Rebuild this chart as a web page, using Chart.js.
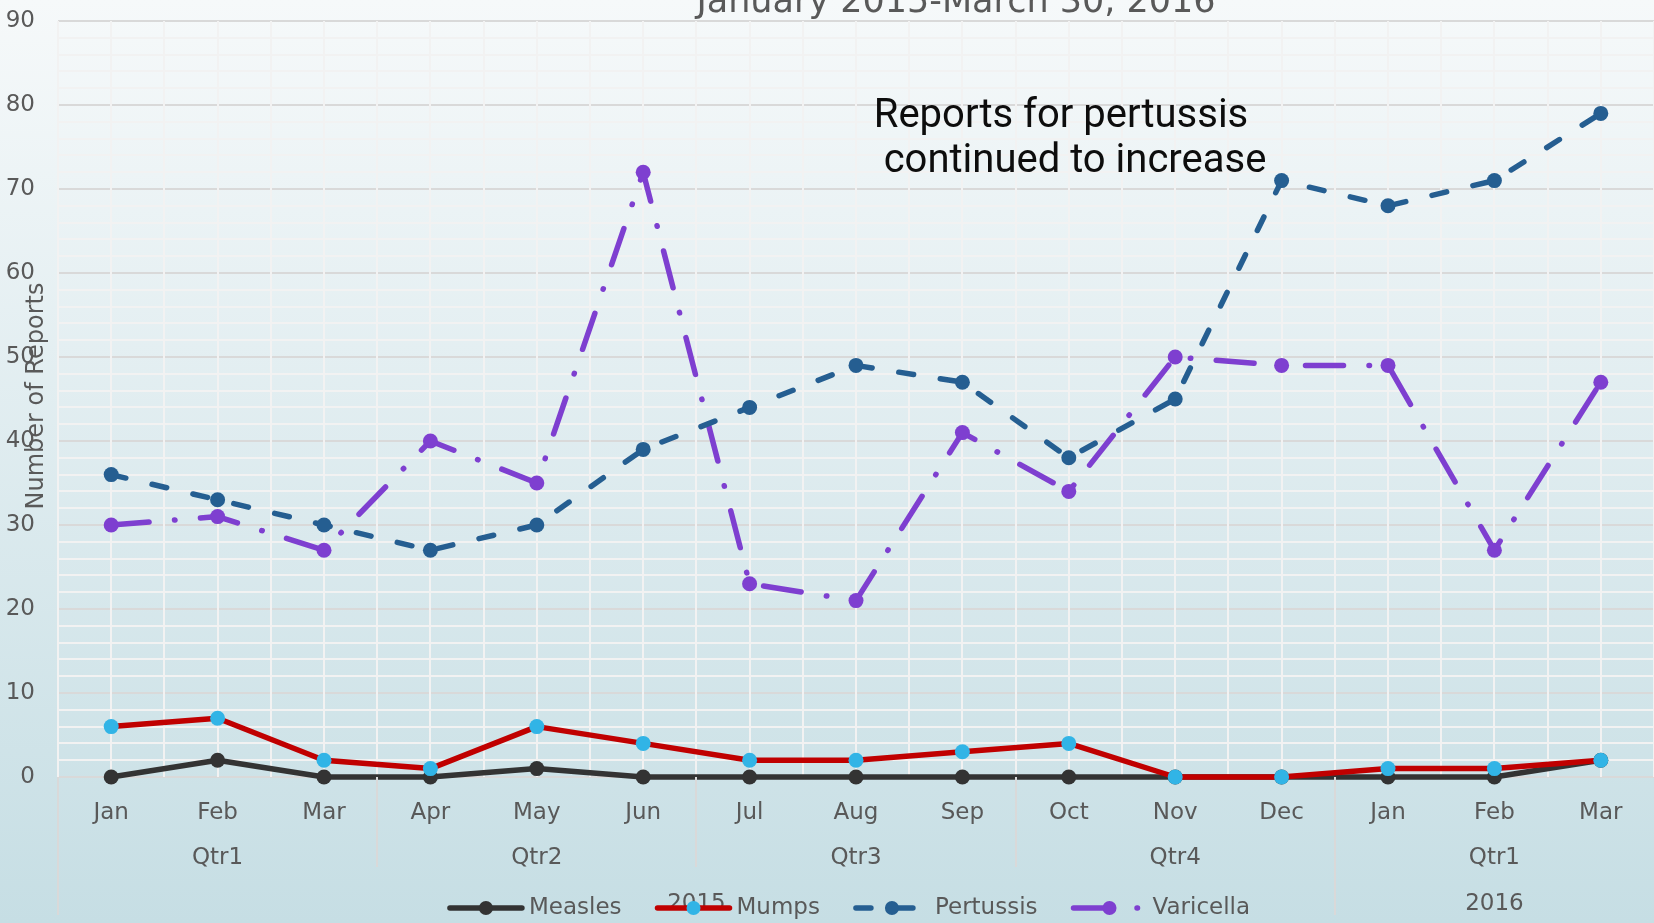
<!DOCTYPE html>
<html>
<head>
<meta charset="utf-8">
<script src="https://cdn.jsdelivr.net/npm/chart.js@4.4.1/dist/chart.umd.min.js"></script>
<style>
    html, body { margin: 0; padding: 0; overflow: hidden; }
</style>
</head>
<body>
<canvas id="reportsChart" width="1654" height="923"></canvas>
<script>
// categories
const months = ["Jan", "Feb", "Mar", "Apr", "May", "Jun", "Jul", "Aug", "Sep", "Oct", "Nov", "Dec", "Jan", "Feb", "Mar"];
const quarters = ["Qtr1", "Qtr2", "Qtr3", "Qtr4", "Qtr1"];
const years = ["2015", "2016"];
const monthsPerYear = [12, 3];

// series values (reports per month)
const measles = [0, 2, 0, 0, 1, 0, 0, 0, 0, 0, 0, 0, 0, 0, 2];
const mumps = [6, 7, 2, 1, 6, 4, 2, 2, 3, 4, 0, 0, 1, 1, 2];
const pertussis = [36, 33, 30, 27, 30, 39, 44, 49, 47, 38, 45, 71, 68, 71, 79];
const varicella = [30, 31, 27, 40, 35, 72, 23, 21, 41, 34, 50, 49, 49, 27, 47];

const FONT = "DejaVu Sans";
const TEXT = "#595959";

// centre of each year group, in month index units
let start = 0;
const yearCenters = monthsPerYear.map((n) => {
    const c = start + (n - 1) / 2;
    start += n;
    return c;
});

const decor = {
    id: "decor",
    beforeDraw(chart) {
        const { ctx, width, height } = chart;
        const g = ctx.createLinearGradient(0, 0, 0, height);
        g.addColorStop(0, "#f6f9fa");
        g.addColorStop(1, "#c6dee4");
        ctx.save();
        ctx.fillStyle = g;
        ctx.fillRect(0, 0, width, height);
        ctx.restore();
    },
    afterDraw(chart) {
        const { ctx, chartArea } = chart;
        const xg = chart.scales.xg;
        ctx.save();

        // group separators below the axis
        ctx.strokeStyle = "#d9d9d9";
        ctx.lineWidth = 2;
        for (let q = 0; q < quarters.length; q++) {
            const px = Math.round(xg.getPixelForValue(q * 3 - 0.5));
            ctx.beginPath();
            ctx.moveTo(px, chartArea.bottom);
            ctx.lineTo(px, 867);
            ctx.stroke();
        }
        let acc = 0;
        monthsPerYear.forEach((n) => {
            const px = Math.round(xg.getPixelForValue(acc - 0.5));
            ctx.beginPath();
            ctx.moveTo(px, chartArea.bottom);
            ctx.lineTo(px, 915);
            ctx.stroke();
            acc += n;
        });

        // title (cut by the top edge)
        ctx.fillStyle = TEXT;
        ctx.font = "35px '" + FONT + "'";
        ctx.textAlign = "center";
        ctx.textBaseline = "alphabetic";
        ctx.fillText("January 2015-March 30, 2016", 956, 12);

        // annotation
        ctx.fillStyle = "#0d0d0d";
        ctx.font = "40px 'Liberation Sans Narrow', 'Roboto'";
        ctx.fillText("Reports for pertussis", 1061, 127);
        ctx.fillText("continued to increase", 1075, 172);

        // y axis title
        ctx.fillStyle = TEXT;
        ctx.font = "24px '" + FONT + "'";
        ctx.save();
        ctx.translate(37, 396);
        ctx.rotate(-Math.PI / 2);
        ctx.textBaseline = "middle";
        ctx.fillText("Number of Reports", 0, 0);
        ctx.restore();

        // legend
        ctx.font = "23px '" + FONT + "'";
        const sampleW = 72, textGap = 7, itemGap = 36, ly = 908;
        const sets = chart.data.datasets;
        const widths = sets.map((ds) => ctx.measureText(ds.label).width);
        const total = widths.reduce((a, b) => a + b, 0) + sets.length * (sampleW + textGap) + itemGap * (sets.length - 1);
        let x = 850 - total / 2;
        sets.forEach((ds, i) => {
            ctx.strokeStyle = ds.borderColor;
            ctx.lineWidth = 5.5;
            ctx.lineCap = "round";
            ctx.setLineDash(ds.borderDash || []);
            ctx.beginPath();
            ctx.moveTo(x, ly);
            ctx.lineTo(x + sampleW, ly);
            ctx.stroke();
            ctx.setLineDash([]);
            ctx.fillStyle = ds.pointBackgroundColor;
            ctx.beginPath();
            ctx.arc(x + sampleW / 2, ly, 7, 0, Math.PI * 2);
            ctx.fill();
            ctx.fillStyle = TEXT;
            ctx.textAlign = "left";
            ctx.textBaseline = "middle";
            ctx.fillText(ds.label, x + sampleW + textGap, ly);
            x += sampleW + textGap + widths[i] + itemGap;
        });
        ctx.restore();
    },
};

const tickFont = { family: FONT, size: 23 };

// keep the bottom axes from reserving side padding
const noSidePad = (s, h) => {
    s.height = h;
    s.paddingLeft = 0;
    s.paddingRight = 0;
};

const ctx = document.getElementById("reportsChart").getContext("2d");
const reportsChart = new Chart(ctx, {
    type: "line",
    data: {
        labels: months,
        datasets: [
            { label: "Measles", data: measles, borderColor: "#333333", backgroundColor: "#333333", pointBackgroundColor: "#333333", order: 4 },
            { label: "Mumps", data: mumps, borderColor: "#c00000", backgroundColor: "#c00000", pointBackgroundColor: "#31b4e6", order: 3 },
            { label: "Pertussis", data: pertussis, borderColor: "#255e91", backgroundColor: "#255e91", pointBackgroundColor: "#255e91", borderDash: [15, 27], order: 1 },
            { label: "Varicella", data: varicella, borderColor: "#7e3fd0", backgroundColor: "#7e3fd0", pointBackgroundColor: "#7e3fd0", borderDash: [38, 25.5, 0.5, 25.5], order: 2 },
        ],
    },
    options: {
        responsive: false,
        animation: false,
        layout: { autoPadding: false, padding: { top: 21, bottom: 6, left: 0, right: 0 } },
        datasets: { line: { clip: false } },
        plugins: {
            legend: { display: false },
            tooltip: { enabled: false },
        },
        elements: {
            line: { borderWidth: 5.5, tension: 0, borderCapStyle: "round", borderJoinStyle: "round" },
            point: { radius: 7.5, borderWidth: 0, hoverRadius: 7.5 },
        },
        scales: {
            x: {
                type: "category",
                position: "bottom",
                offset: true,
                grid: { display: false, drawTicks: false },
                border: { display: false },
                ticks: { font: tickFont, color: TEXT, padding: 22, maxRotation: 0, autoSkip: false },
                afterFit: (s) => noSidePad(s, 48),
            },
            xq: {
                type: "category",
                labels: quarters,
                position: "bottom",
                weight: 1,
                offset: true,
                grid: { display: false, drawTicks: false },
                border: { display: false },
                ticks: { font: tickFont, color: TEXT, padding: 19, maxRotation: 0, autoSkip: false },
                afterFit: (s) => noSidePad(s, 46),
            },
            xy: {
                type: "linear",
                position: "bottom",
                weight: 2,
                min: -0.5,
                max: 14.5,
                grid: { display: false, drawTicks: false },
                border: { display: false },
                afterBuildTicks: (s) => { s.ticks = yearCenters.map((v) => ({ value: v })); },
                ticks: { font: tickFont, color: TEXT, padding: 19, maxRotation: 0, autoSkip: false, callback: (v) => years[yearCenters.indexOf(v)] },
                afterFit: (s) => noSidePad(s, 46),
            },
            xg: {
                type: "linear",
                position: "top",
                min: -0.5,
                max: 14.5,
                ticks: { display: false, stepSize: 0.5 },
                grid: { color: "#f2f2f2", lineWidth: 2, drawTicks: false, z: -1 },
                border: { display: false },
                afterFit: (s) => noSidePad(s, 0),
            },
            y: {
                min: 0,
                max: 90,
                ticks: {
                    stepSize: 2,
                    autoSkip: false,
                    padding: 23,
                    font: tickFont,
                    color: TEXT,
                    callback: (v) => (v % 10 === 0 ? v : ""),
                },
                grid: {
                    color: (c) => (c.tick && c.tick.value % 10 === 0 ? "#d9d9d9" : "#f2f2f2"),
                    lineWidth: 2,
                    drawTicks: false,
                    z: -2,
                },
                border: { display: false },
                afterFit: (s) => {
                    s.width = 58;
                    s.paddingTop = 0;
                    s.paddingBottom = 0;
                },
            },
        },
    },
    plugins: [decor],
});
</script>
</body>
</html>
